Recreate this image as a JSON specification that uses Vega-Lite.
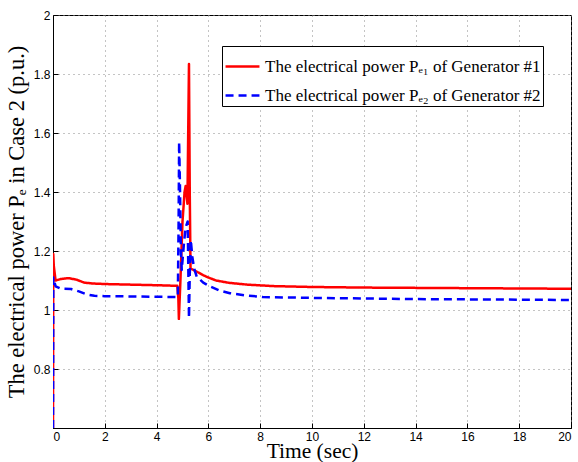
{
  "$schema": "https://vega.github.io/schema/vega-lite/v6.json",
  "width": 518,
  "height": 413,
  "autosize": {"type": "none"},
  "padding": {"left": 53, "top": 15, "right": 7, "bottom": 34},
  "background": "white",
  "config": {
    "view": {"stroke": "black", "strokeWidth": 1},
    "axis": {
      "domainColor": "black",
      "tickColor": "black",
      "gridColor": "#888888",
      "gridDash": [1, 4],
      "gridWidth": 1,
      "labelFont": "Liberation Sans",
      "labelFontSize": 12,
      "labelColor": "black",
      "titleFont": "Liberation Serif",
      "titleFontWeight": "normal",
      "titleColor": "black",
      "tickSize": -5
    }
  },
  "data": {
    "values": [
      {"t": 0, "v": 0.6, "s": "The electrical power Pₑ₁ of Generator #1"},
      {"t": 0.01, "v": 1.19, "s": "The electrical power Pₑ₁ of Generator #1"},
      {"t": 0.03, "v": 1.15, "s": "The electrical power Pₑ₁ of Generator #1"},
      {"t": 0.1, "v": 1.1, "s": "The electrical power Pₑ₁ of Generator #1"},
      {"t": 0.3, "v": 1.105, "s": "The electrical power Pₑ₁ of Generator #1"},
      {"t": 0.6, "v": 1.108, "s": "The electrical power Pₑ₁ of Generator #1"},
      {"t": 0.9, "v": 1.103, "s": "The electrical power Pₑ₁ of Generator #1"},
      {"t": 1.2, "v": 1.093, "s": "The electrical power Pₑ₁ of Generator #1"},
      {"t": 1.5, "v": 1.09, "s": "The electrical power Pₑ₁ of Generator #1"},
      {"t": 2, "v": 1.088, "s": "The electrical power Pₑ₁ of Generator #1"},
      {"t": 3, "v": 1.086, "s": "The electrical power Pₑ₁ of Generator #1"},
      {"t": 4, "v": 1.084, "s": "The electrical power Pₑ₁ of Generator #1"},
      {"t": 4.8, "v": 1.082, "s": "The electrical power Pₑ₁ of Generator #1"},
      {"t": 4.84, "v": 1.04, "s": "The electrical power Pₑ₁ of Generator #1"},
      {"t": 4.86, "v": 0.97, "s": "The electrical power Pₑ₁ of Generator #1"},
      {"t": 4.92, "v": 1.1, "s": "The electrical power Pₑ₁ of Generator #1"},
      {"t": 5.0, "v": 1.3, "s": "The electrical power Pₑ₁ of Generator #1"},
      {"t": 5.08, "v": 1.4, "s": "The electrical power Pₑ₁ of Generator #1"},
      {"t": 5.12, "v": 1.42, "s": "The electrical power Pₑ₁ of Generator #1"},
      {"t": 5.17, "v": 1.38, "s": "The electrical power Pₑ₁ of Generator #1"},
      {"t": 5.19, "v": 1.36, "s": "The electrical power Pₑ₁ of Generator #1"},
      {"t": 5.22, "v": 1.6, "s": "The electrical power Pₑ₁ of Generator #1"},
      {"t": 5.25, "v": 1.834, "s": "The electrical power Pₑ₁ of Generator #1"},
      {"t": 5.28, "v": 1.4, "s": "The electrical power Pₑ₁ of Generator #1"},
      {"t": 5.31, "v": 1.14, "s": "The electrical power Pₑ₁ of Generator #1"},
      {"t": 5.4, "v": 1.137, "s": "The electrical power Pₑ₁ of Generator #1"},
      {"t": 5.55, "v": 1.13, "s": "The electrical power Pₑ₁ of Generator #1"},
      {"t": 5.8, "v": 1.118, "s": "The electrical power Pₑ₁ of Generator #1"},
      {"t": 6.0, "v": 1.11, "s": "The electrical power Pₑ₁ of Generator #1"},
      {"t": 6.3, "v": 1.1, "s": "The electrical power Pₑ₁ of Generator #1"},
      {"t": 6.8, "v": 1.092, "s": "The electrical power Pₑ₁ of Generator #1"},
      {"t": 7.5, "v": 1.086, "s": "The electrical power Pₑ₁ of Generator #1"},
      {"t": 8.5, "v": 1.081, "s": "The electrical power Pₑ₁ of Generator #1"},
      {"t": 10, "v": 1.078, "s": "The electrical power Pₑ₁ of Generator #1"},
      {"t": 12, "v": 1.076, "s": "The electrical power Pₑ₁ of Generator #1"},
      {"t": 14, "v": 1.075, "s": "The electrical power Pₑ₁ of Generator #1"},
      {"t": 16, "v": 1.074, "s": "The electrical power Pₑ₁ of Generator #1"},
      {"t": 18, "v": 1.073, "s": "The electrical power Pₑ₁ of Generator #1"},
      {"t": 20, "v": 1.072, "s": "The electrical power Pₑ₁ of Generator #1"},
      {"t": 0, "v": 0.6, "s": "The electrical power Pₑ₂ of Generator #2"},
      {"t": 0.01, "v": 1.11, "s": "The electrical power Pₑ₂ of Generator #2"},
      {"t": 0.1, "v": 1.08, "s": "The electrical power Pₑ₂ of Generator #2"},
      {"t": 0.3, "v": 1.072, "s": "The electrical power Pₑ₂ of Generator #2"},
      {"t": 0.7, "v": 1.071, "s": "The electrical power Pₑ₂ of Generator #2"},
      {"t": 1.0, "v": 1.063, "s": "The electrical power Pₑ₂ of Generator #2"},
      {"t": 1.3, "v": 1.053, "s": "The electrical power Pₑ₂ of Generator #2"},
      {"t": 1.6, "v": 1.048, "s": "The electrical power Pₑ₂ of Generator #2"},
      {"t": 2, "v": 1.047, "s": "The electrical power Pₑ₂ of Generator #2"},
      {"t": 3, "v": 1.046, "s": "The electrical power Pₑ₂ of Generator #2"},
      {"t": 4, "v": 1.045, "s": "The electrical power Pₑ₂ of Generator #2"},
      {"t": 4.82, "v": 1.044, "s": "The electrical power Pₑ₂ of Generator #2"},
      {"t": 4.85, "v": 1.3, "s": "The electrical power Pₑ₂ of Generator #2"},
      {"t": 4.87, "v": 1.57, "s": "The electrical power Pₑ₂ of Generator #2"},
      {"t": 4.9, "v": 1.43, "s": "The electrical power Pₑ₂ of Generator #2"},
      {"t": 4.94, "v": 1.2, "s": "The electrical power Pₑ₂ of Generator #2"},
      {"t": 4.97, "v": 1.136, "s": "The electrical power Pₑ₂ of Generator #2"},
      {"t": 5.05, "v": 1.22, "s": "The electrical power Pₑ₂ of Generator #2"},
      {"t": 5.12, "v": 1.28, "s": "The electrical power Pₑ₂ of Generator #2"},
      {"t": 5.2, "v": 1.3, "s": "The electrical power Pₑ₂ of Generator #2"},
      {"t": 5.23, "v": 1.1, "s": "The electrical power Pₑ₂ of Generator #2"},
      {"t": 5.25, "v": 0.973, "s": "The electrical power Pₑ₂ of Generator #2"},
      {"t": 5.28, "v": 1.12, "s": "The electrical power Pₑ₂ of Generator #2"},
      {"t": 5.32, "v": 1.237, "s": "The electrical power Pₑ₂ of Generator #2"},
      {"t": 5.38, "v": 1.18, "s": "The electrical power Pₑ₂ of Generator #2"},
      {"t": 5.45, "v": 1.14, "s": "The electrical power Pₑ₂ of Generator #2"},
      {"t": 5.55, "v": 1.113, "s": "The electrical power Pₑ₂ of Generator #2"},
      {"t": 5.8, "v": 1.093, "s": "The electrical power Pₑ₂ of Generator #2"},
      {"t": 6.06, "v": 1.08, "s": "The electrical power Pₑ₂ of Generator #2"},
      {"t": 6.4, "v": 1.067, "s": "The electrical power Pₑ₂ of Generator #2"},
      {"t": 6.83, "v": 1.057, "s": "The electrical power Pₑ₂ of Generator #2"},
      {"t": 7.4, "v": 1.05, "s": "The electrical power Pₑ₂ of Generator #2"},
      {"t": 8.1, "v": 1.044, "s": "The electrical power Pₑ₂ of Generator #2"},
      {"t": 10, "v": 1.041, "s": "The electrical power Pₑ₂ of Generator #2"},
      {"t": 12, "v": 1.039, "s": "The electrical power Pₑ₂ of Generator #2"},
      {"t": 14, "v": 1.037, "s": "The electrical power Pₑ₂ of Generator #2"},
      {"t": 16, "v": 1.036, "s": "The electrical power Pₑ₂ of Generator #2"},
      {"t": 18, "v": 1.035, "s": "The electrical power Pₑ₂ of Generator #2"},
      {"t": 20, "v": 1.034, "s": "The electrical power Pₑ₂ of Generator #2"}
    ]
  },
  "mark": {"type": "line", "strokeWidth": 2.5, "clip": true, "strokeJoin": "round"},
  "encoding": {
    "x": {
      "field": "t", "type": "quantitative",
      "scale": {"domain": [0, 20], "nice": false},
      "axis": {"values": [0, 2, 4, 6, 8, 10, 12, 14, 16, 18, 20], "title": "Time (sec)", "titleFontSize": 21.5, "titlePadding": -2, "labelPadding": 8, "grid": true}
    },
    "y": {
      "field": "v", "type": "quantitative",
      "scale": {"domain": [0.6, 2], "nice": false, "zero": false},
      "axis": {"values": [0.8, 1, 1.2, 1.4, 1.6, 1.8, 2], "format": ".1~f", "title": "The electrical power Pₑ in Case 2 (p.u.)", "titleFontSize": 22.5, "titlePadding": 5, "labelPadding": 8, "grid": true}
    },
    "color": {
      "field": "s", "type": "nominal",
      "scale": {"range": ["#ff0000", "#0000ff"]},
      "legend": {
        "title": null,
        "orient": "none",
        "legendX": 169,
        "legendY": 31,
        "strokeColor": "black",
        "fillColor": "white",
        "padding": 2,
        "symbolType": "stroke",
        "symbolSize": 1150,
        "symbolStrokeWidth": 2.5,
        "labelOffset": 4,
        "labelFont": "Liberation Serif",
        "labelFontSize": 17,
        "labelColor": "black",
        "labelLimit": 400,
        "rowPadding": 2
      }
    },
    "strokeDash": {
      "field": "s", "type": "nominal",
      "scale": {"range": [[1, 0], [8, 5]]},
      "legend": null
    }
  }
}
